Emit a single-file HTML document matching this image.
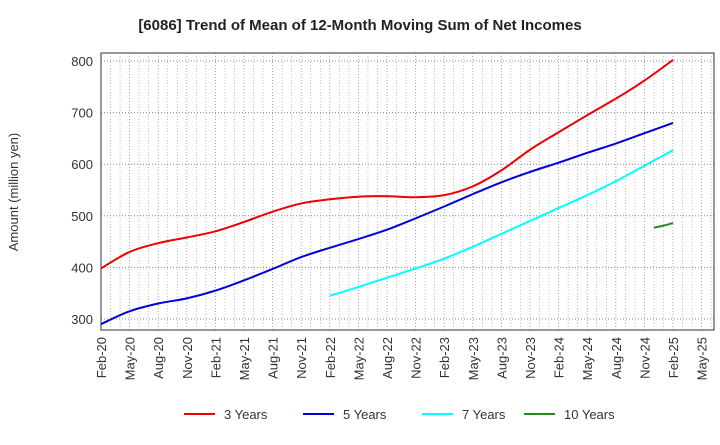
<!DOCTYPE html>
<html><head><meta charset="utf-8"><style>
body{margin:0;background:#fff;font-family:"Liberation Sans",sans-serif}
</style></head><body>
<svg width="720" height="440" xmlns="http://www.w3.org/2000/svg">
<text x="360" y="30" text-anchor="middle" font-size="15" font-weight="bold" fill="#222">[6086]  Trend of Mean of 12-Month Moving Sum of Net Incomes</text>
<g id="grid"></g><g id="axes"></g><g id="series"></g>
<text transform="translate(18,192) rotate(-90)" text-anchor="middle" font-size="13" fill="#333">Amount (million yen)</text>
<g id="legend"></g>
</svg>
<script>
const xLabels=["Feb-20","May-20","Aug-20","Nov-20","Feb-21","May-21","Aug-21","Nov-21","Feb-22","May-22","Aug-22","Nov-22","Feb-23","May-23","Aug-23","Nov-23","Feb-24","May-24","Aug-24","Nov-24","Feb-25","May-25"];
const yTicks=[300,400,500,600,700,800];
const s3=[398,430,447,458,470,488,508,524,532,537,538,536,540,557,588,628,662,695,727,762,802];
const s5=[290,315,330,340,355,375,397,420,438,455,473,495,518,542,565,585,603,622,640,660,680];
const s7=[345,362,380,398,417,440,465,490,515,540,567,597,627];
const s7Start=24;
const s10=[477,481,486];
const s10Start=58;
const L=101,R=714,T=53,B=330;
const X=m=>L+m*28.6/3;
const Y=v=>61+(800-v)*(319-61)/500;
const NS="http://www.w3.org/2000/svg";
function mk(t,a,p){const e=document.createElementNS(NS,t);for(const k in a)e.setAttribute(k,a[k]);p.appendChild(e);return e;}
const g=document.getElementById('grid'),ax=document.getElementById('axes'),se=document.getElementById('series'),lg=document.getElementById('legend');
for(let m=1;X(m)<R;m++){const l=mk('line',{x1:X(m),x2:X(m),y1:T,y2:B,stroke:'#999','stroke-dasharray':'1,2','stroke-width':m%3?0.6:0.9},g);

}
yTicks.forEach(v=>{const l=mk('line',{x1:L,x2:R,y1:Y(v),y2:Y(v),stroke:'#888','stroke-dasharray':'1,2'},g);


const t=mk('text',{x:L-8,y:Y(v)+5,'text-anchor':'end','font-size':13,fill:'#333'},ax);t.textContent=v;

});
xLabels.forEach((s,i)=>{const x=X(i*3);const t=mk('text',{transform:`translate(${x+5},${B+7}) rotate(-90)`,'text-anchor':'end','font-size':13,fill:'#333'},ax);t.textContent=s;

});
const fr=mk('rect',{x:L,y:T,width:R-L,height:B-T,fill:'none',stroke:'#333'},ax);


function path(pts){let d=`M${pts[0][0]},${pts[0][1]}`;for(let i=0;i<pts.length-1;i++){const p0=pts[i-1]||pts[i],p1=pts[i],p2=pts[i+1],p3=pts[i+2]||p2;
d+=` C${p1[0]+(p2[0]-p0[0])/6},${p1[1]+(p2[1]-p0[1])/6} ${p2[0]-(p3[0]-p1[0])/6},${p2[1]-(p3[1]-p1[1])/6} ${p2[0]},${p2[1]}`;}return d;}
function draw(vals,start,step,color,name){const pts=vals.map((v,i)=>[X(start+i*step),Y(v)]);const p=mk('path',{d:path(pts),fill:'none',stroke:color,'stroke-width':2},se);

}
draw(s3,0,3,'#e00','series-3-years');
draw(s5,0,3,'#00d','series-5-years');
draw(s7,s7Start,3,'#0ff','series-7-years');
draw(s10,s10Start,1,'#228b22','series-10-years');
[["3 Years","#e00",184],["5 Years","#00d",303],["7 Years","#0ff",422],["10 Years","#228b22",524]].forEach(([n,c,x])=>{
const gg=mk('g',{},lg);


mk('line',{x1:x,x2:x+31,y1:414,y2:414,stroke:c,'stroke-width':2},gg);
const t=mk('text',{x:x+40,y:419,'font-size':13,fill:'#333'},gg);t.textContent=n;});
</script>
</body></html>
